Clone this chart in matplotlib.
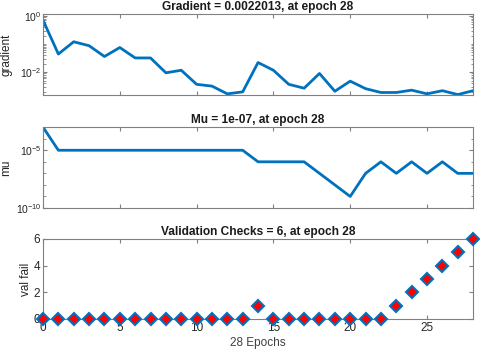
import numpy as np
import matplotlib
matplotlib.use('Agg')
import matplotlib.pyplot as plt
from matplotlib.ticker import LogLocator, NullFormatter

plt.rcParams['font.family'] = ['Liberation Sans', 'DejaVu Sans']

epochs = list(range(29))
gradient = [0.7, 0.044, 0.12, 0.087, 0.036, 0.075, 0.032, 0.032, 0.0095, 0.0117,
            0.0037, 0.0032, 0.0017, 0.002, 0.022, 0.0117, 0.0037, 0.0027, 0.009,
            0.0021, 0.0048, 0.0026, 0.0019, 0.0019, 0.0023, 0.0017, 0.0022, 0.0016,
            0.0022013]
mu = [1e-3, 1e-5, 1e-5, 1e-5, 1e-5, 1e-5, 1e-5, 1e-5, 1e-5, 1e-5, 1e-5, 1e-5, 1e-5, 1e-5,
      1e-6, 1e-6, 1e-6, 1e-6, 1e-7, 1e-8, 1e-9, 1e-7, 1e-6, 1e-7, 1e-6, 1e-7, 1e-6,
      1e-7, 1e-7]
val_fail = [0, 0, 0, 0, 0, 0, 0, 0, 0, 0, 0, 0, 0, 0, 1, 0, 0, 0, 0, 0, 0, 0, 0,
            1, 2, 3, 4, 5, 6]

titles = ['Gradient = 0.0022013, at epoch 28',
          'Mu = 1e-07, at epoch 28',
          'Validation Checks = 6, at epoch 28']
ylabels = ['gradient', 'mu', 'val fail']
# where MATLAB put each y label (axes fraction, left of the axis)
ylabel_x = [-0.07, -0.072, -0.026]

blue = '#0072BD'
dark = '#262626'
edge = '#808080'

fig = plt.figure(figsize=(4.8, 3.5), dpi=100)
ax1 = fig.add_axes([0.0896, 0.7286, 0.896, 0.231])
ax2 = fig.add_axes([0.0896, 0.4057, 0.896, 0.231])
ax3 = fig.add_axes([0.0896, 0.0886, 0.896, 0.229])
axes = [ax1, ax2, ax3]

ax1.semilogy(epochs, gradient, color=blue, lw=2)
ax1.set_ylim(10**-2.81, 10**0.06)
ax1.set_yticks([1e-2, 1e0])
ax1.yaxis.set_minor_locator(LogLocator(subs=np.arange(1, 10), numticks=30))

ax2.semilogy(epochs, mu, color=blue, lw=2)
ax2.set_ylim(1e-10, 1e-3)
ax2.set_yticks([1e-10, 1e-5])
ax2.yaxis.set_minor_locator(LogLocator(subs=(1.0,), numticks=30))

ax3.plot(epochs, val_fail, linestyle='none', marker='D', ms=6.5,
         mfc='red', mec=blue, mew=1.5, clip_on=False, zorder=5)
ax3.set_ylim(0, 6)
ax3.set_yticks([0, 2, 4, 6])
ax3.set_xlabel('28 Epochs', fontsize=8.5, color='#404040', labelpad=2)

for ax, t, yl, lx in zip(axes, titles, ylabels, ylabel_x):
    ax.set_xlim(0, 28)
    ax.set_xticks([0, 5, 10, 15, 20, 25])
    ax.xaxis.set_minor_locator(plt.NullLocator())
    ax.yaxis.set_minor_formatter(NullFormatter())
    ax.set_title(t, fontsize=8.6, fontweight='bold', color='#1a1a1a', pad=3)
    ax.set_ylabel(yl, fontsize=8.5, color=dark)
    ax.yaxis.set_label_coords(lx, 0.5)
    ax.tick_params(which='both', direction='in', top=True, right=True,
                   labelsize=8.5, colors=dark, pad=2)
    ax.tick_params(which='major', length=3)
    ax.tick_params(which='minor', length=1.8)
    ax.tick_params(which='both', axis='both', color=edge)
    for s in ax.spines.values():
        s.set_color(edge)
        s.set_linewidth(0.8)

ax1.tick_params(axis='y', labelsize=7.5, pad=1)
ax2.tick_params(axis='y', labelsize=7.5, pad=1)
ax3.yaxis.set_minor_locator(plt.NullLocator())
ax1.tick_params(labelbottom=False)
ax2.tick_params(labelbottom=False)

fig.savefig('out.png', dpi=100)
